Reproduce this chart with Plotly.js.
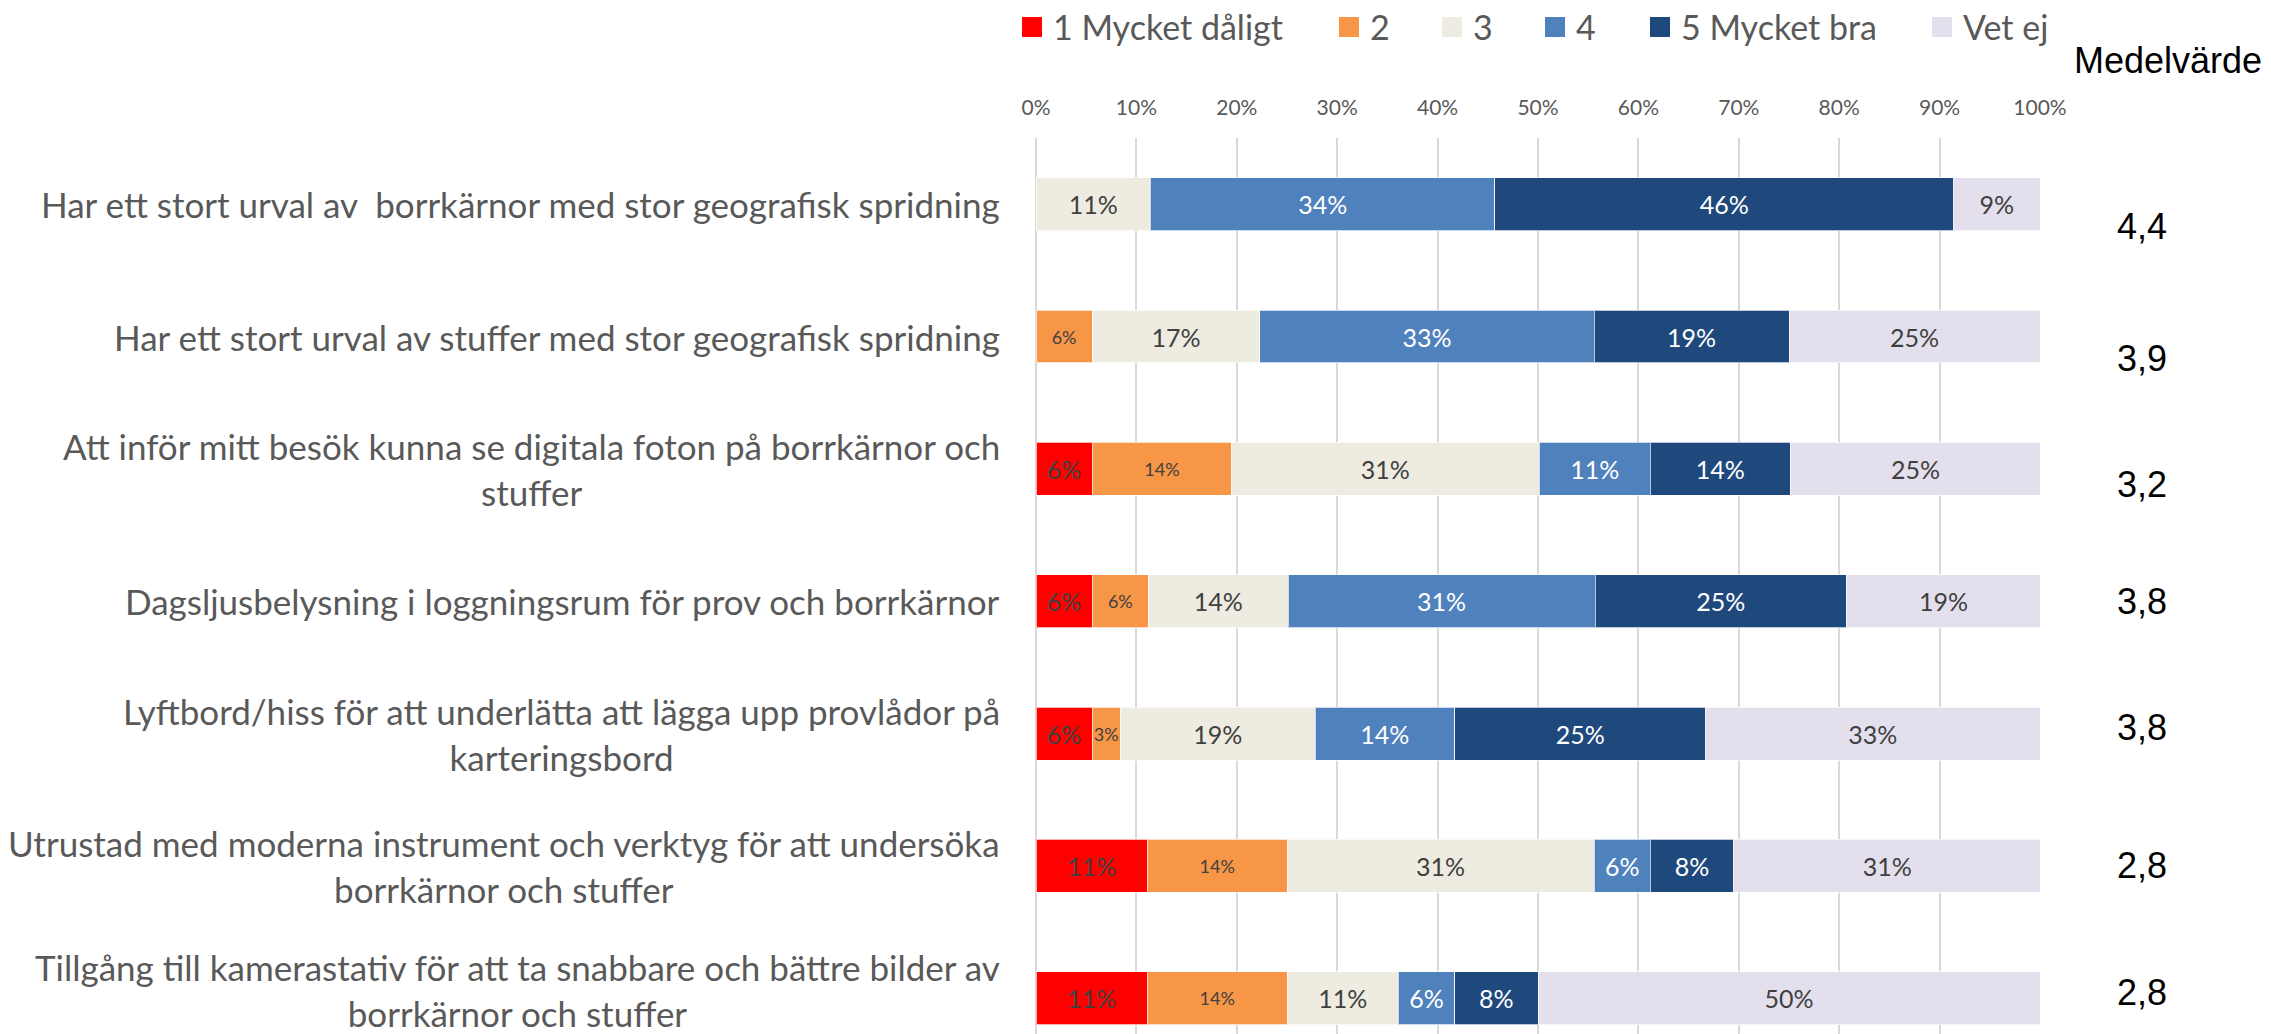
<!DOCTYPE html>
<html>
<head>
<meta charset="utf-8">
<script src="https://cdn.plot.ly/plotly-3.0.1.min.js"></script>
<style>html,body{margin:0;padding:0;background:#fff;}#chart{width:2271px;height:1034px;}</style>
</head>
<body>
<div id="chart"></div>
<script>
// ---- data ----
const categories = [
  "Har ett stort urval av  borrkärnor med stor geografisk spridning",
  "Har ett stort urval av stuffer med stor geografisk spridning",
  "Att inför mitt besök kunna se digitala foton på borrkärnor och<br>stuffer",
  "Dagsljusbelysning i loggningsrum för prov och borrkärnor",
  "Lyftbord/hiss för att underlätta att lägga upp provlådor på<br>karteringsbord",
  "Utrustad med moderna instrument och verktyg för att undersöka<br>borrkärnor och stuffer",
  "Tillgång till kamerastativ för att ta snabbare och bättre bilder av<br>borrkärnor och stuffer"
];
const seriesNames = ["1 Mycket dåligt", "2", "3", "4", "5 Mycket bra", "Vet ej"];
const s1 = [0, 0, 5.6, 5.6, 5.6, 11.1, 11.1];
const s2 = [0, 5.6, 13.9, 5.6, 2.8, 13.9, 13.9];
const s3 = [11.4, 16.7, 30.6, 13.9, 19.4, 30.6, 11.1];
const s4 = [34.3, 33.3, 11.1, 30.6, 13.9, 5.6, 5.6];
const s5 = [45.7, 19.4, 13.9, 25.0, 25.0, 8.3, 8.3];
const s6 = [8.6, 25.0, 25.0, 19.4, 33.3, 30.6, 50.0];
const means = [4.4, 3.9, 3.2, 3.8, 3.8, 2.8, 2.8];
const xTicks = [0, 10, 20, 30, 40, 50, 60, 70, 80, 90, 100];

// ---- styles ----
const colors = ["#FF0000", "#F79646", "#EEECE1", "#4F81BD", "#1F497D", "#E4DFEC"];
const textColors = ["#404040", "#404040", "#404040", "#FFFFFF", "#FFFFFF", "#404040"];
const textSizes = [25, 18, 25, 25, 25, 25];
const meanShift = [-22, -22, -16, 0, 6, 0, 6];
const labelShift = [0, 0, 0, 0, 0, 0, 8];
const legendPx = [1022, 1339, 1442, 1545, 1650, 1932];   // legend swatch left edges (px)
const FONT = "Lato, 'Open Sans', sans-serif";
const ML = 1036, MR = 231, MT = 138, W = 2271, H = 1034;
const plotW = W - ML - MR, plotH = H - MT;
const px2x = p => (p - ML) / plotW;
const px2y = p => 1 + (MT - p) / plotH;

const series = [s1, s2, s3, s4, s5, s6];
const traces = series.map((vals, i) => ({
  type: "bar",
  orientation: "h",
  name: seriesNames[i],
  y: categories,
  x: vals,
  text: vals.map(v => v > 0 ? Math.round(v) + "%" : ""),
  textposition: "inside",
  insidetextanchor: "middle",
  textangle: 0,
  constraintext: "none",
  textfont: {family: FONT, size: textSizes[i], color: textColors[i]},
  marker: {color: colors[i], line: {color: "rgba(255,255,255,0.7)", width: 1}},
  width: 0.4,
  showlegend: false,
  hoverinfo: "skip"
}));

const annotations = [];
const shapes = [];
categories.forEach((c, i) => {
  annotations.push({
    xref: "paper", yref: "y", x: 0, y: c, xanchor: "right", yanchor: "middle",
    xshift: -34, yshift: labelShift[i], text: c, showarrow: false, align: "center",
    font: {family: FONT, size: 35, color: "#595959"}
  });
  annotations.push({
    xref: "paper", yref: "y", x: 1.1016, y: c, xanchor: "center", yanchor: "middle",
    yshift: meanShift[i], text: means[i].toFixed(1).replace(".", ","), showarrow: false,
    font: {family: "'Liberation Sans', Arial, sans-serif", size: 36, color: "#000000"}
  });
});
annotations.push({
  xref: "paper", yref: "paper", x: 1.1275, y: 1.086, xanchor: "center", yanchor: "middle",
  text: "Medelvärde", showarrow: false,
  font: {family: "'Liberation Sans', Arial, sans-serif", size: 36, color: "#000000"}
});

// legend (swatch + label)
const legY = 27, sw = 20;
seriesNames.forEach((n, i) => {
  shapes.push({
    type: "rect", xref: "paper", yref: "paper", layer: "above",
    x0: px2x(legendPx[i]), x1: px2x(legendPx[i] + sw),
    y0: px2y(legY + sw / 2), y1: px2y(legY - sw / 2),
    fillcolor: colors[i], line: {width: 0}
  });
  annotations.push({
    xref: "paper", yref: "paper", x: px2x(legendPx[i] + sw + 9), y: px2y(legY),
    xanchor: "left", yanchor: "middle", text: n, showarrow: false,
    font: {family: FONT, size: 34, color: "#595959"}
  });
});

const layout = {
  width: W, height: H,
  margin: {l: ML, r: MR, t: MT, b: 0, pad: 0},
  paper_bgcolor: "#FFFFFF", plot_bgcolor: "#FFFFFF",
  barmode: "stack",
  showlegend: false,
  xaxis: {
    side: "top", range: [0, 100], tickvals: xTicks, ticktext: xTicks.map(v => v + "%"),
    showgrid: true, gridcolor: "#D9D9D9", gridwidth: 2,
    zeroline: true, zerolinecolor: "#D9D9D9", zerolinewidth: 2,
    showline: false, ticks: "", ticklabelstandoff: 18,
    tickfont: {family: FONT, size: 21, color: "#595959"}, fixedrange: true
  },
  yaxis: {
    type: "category", categoryorder: "array", categoryarray: categories,
    range: [6.27, -0.5], showticklabels: false, showgrid: false, zeroline: false,
    showline: false, ticks: "", fixedrange: true
  },
  shapes: shapes,
  annotations: annotations
};

Plotly.newPlot("chart", traces, layout, {displayModeBar: false, staticPlot: true});
</script>
</body>
</html>
